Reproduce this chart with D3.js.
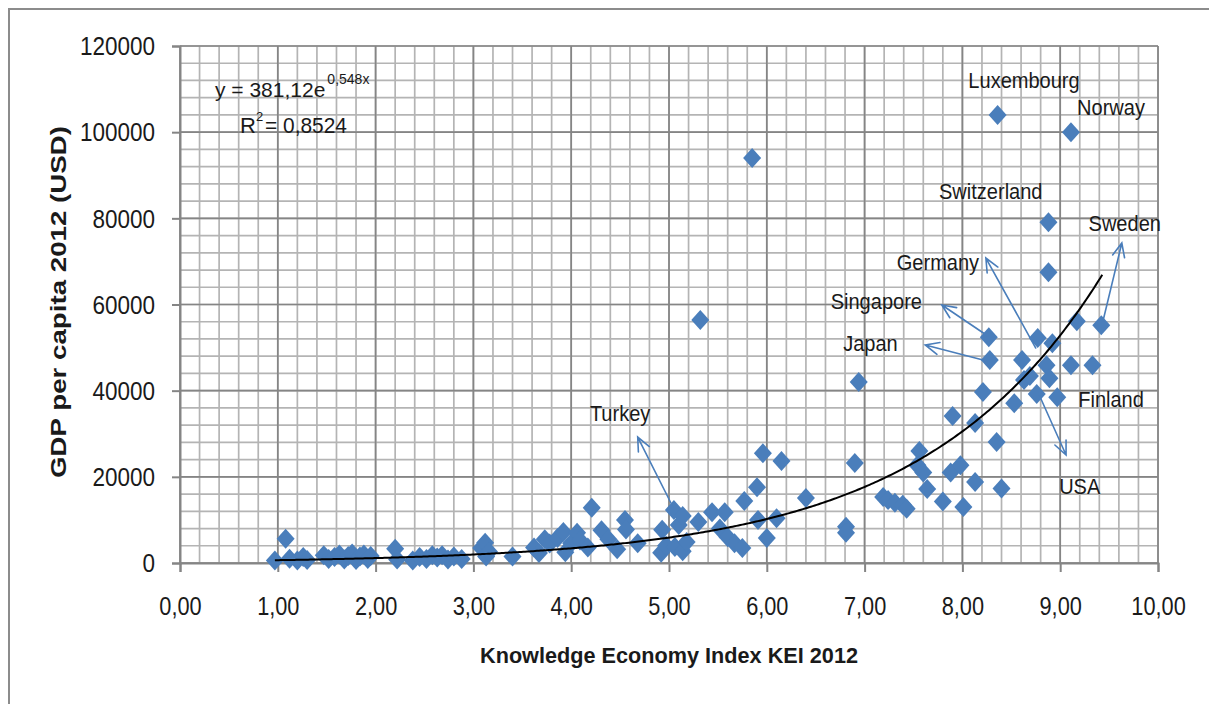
<!DOCTYPE html>
<html>
<head>
<meta charset="utf-8">
<script src="https://cdn.jsdelivr.net/npm/d3@7"></script>
<style>
  html, body { margin: 0; padding: 0; background: #fff; }
  svg { display: block; }
</style>
</head>
<body>
<svg id="chart" width="1209" height="704"></svg>
<script>
// Knowledge Economy Index (KEI 2012) against GDP per capita 2012 (USD)
const kei = [
  0.97, 1.08, 1.12, 1.20, 1.26, 1.30, 1.47, 1.52, 1.58, 1.63, 1.68, 1.72, 1.76, 1.80, 1.84, 1.88, 1.92, 1.95,
  2.20, 2.22, 2.38, 2.45, 2.52, 2.58, 2.63, 2.68, 2.74, 2.80, 2.88, 3.08, 3.12, 3.13, 3.16,
  3.40, 3.62, 3.67, 3.73, 3.78, 3.86, 3.92, 3.94, 4.00, 4.06, 4.09, 4.17, 4.21, 4.31, 4.38, 4.47, 4.55, 4.56,
  4.68, 4.92, 4.93, 4.97, 5.05, 5.06, 5.10, 5.14, 5.14, 5.18, 5.30, 5.32, 5.44, 5.52, 5.57, 5.60, 5.67, 5.75,
  5.77, 5.85, 5.90, 5.91, 5.96, 6.00, 6.10, 6.15, 6.40,
  6.81, 6.81, 6.90, 6.94, 7.19, 7.24, 7.31, 7.39, 7.43, 7.56, 7.54, 7.60, 7.64, 7.80, 7.88, 7.90, 7.98, 8.01,
  8.13, 8.13, 8.21, 8.27, 8.28, 8.35, 8.36, 8.40, 8.53, 8.61, 8.63, 8.69, 8.76, 8.77, 8.86, 8.88, 8.88, 8.89,
  8.92, 8.97, 9.11, 9.11, 9.17, 9.33, 9.42
];
const gdp = [
  600, 5600, 1000, 600, 1400, 700, 1800, 900, 1400, 2000, 800, 1600, 2200, 700, 1500, 2000, 900, 1600,
  3300, 800, 600, 1400, 900, 1800, 1300, 1800, 800, 1500, 900, 3500, 4700, 1500, 2600,
  1500, 3600, 2300, 5500, 4500, 5800, 7200, 2500, 4600, 7000, 5200, 3600, 12800, 7600, 5500, 3200, 10000, 7800,
  4600, 2400, 7700, 4000, 12300, 3700, 8800, 10900, 2700, 4900, 9500, 56400, 11800, 8000, 11800, 6000, 4600, 3500,
  14400, 94000, 17600, 10000, 25500, 5800, 10400, 23700, 15100,
  8400, 7000, 23200, 42000, 15300, 14600, 14000, 13500, 12600, 26000, 22700, 21000, 17200, 14300, 21000, 34100, 22700, 13000,
  32500, 18800, 39700, 52400, 47100, 28100, 104000, 17300, 37100, 47100, 42500, 43400, 39200, 52200, 45900, 79100, 67500, 42900,
  51000, 38500, 100000, 45900, 56100, 45900, 55200
];

// Axis ticks
const xTickValues = [0, 1, 2, 3, 4, 5, 6, 7, 8, 9, 10];
const yTickValues = [0, 20000, 40000, 60000, 80000, 100000, 120000];

// Exponential trendline y = a * e^(b x)
const trendA = 381.12;
const trendB = 0.548;
const trendRange = [0.97, 9.43];
const r2Text = "0,8524";

// Country call-outs: name, label anchor (kei, gdp)
const labelNames = ["Luxembourg", "Norway", "Switzerland", "Sweden", "Germany", "Singapore", "Japan", "Finland", "USA", "Turkey"];
const labelKei   = [8.63, 9.52, 8.29, 9.66, 7.75, 7.12, 7.06, 9.52, 9.20, 4.50];
const labelGdp   = [110250, 104000, 84500, 77060, 68000, 58950, 49200, 36200, 16000, 32960];

// Arrows: from (kei, gdp) to (kei, gdp)
const arrowNames   = ["Turkey", "Singapore", "Japan", "Germany", "USA", "Sweden"];
const arrowFromKei = [5.03, 8.26, 8.25, 8.75, 8.79, 9.44];
const arrowFromGdp = [13460, 52690, 46880, 49900, 38760, 56400];
const arrowToKei   = [4.68, 7.79, 7.62, 8.24, 9.06, 9.63];
const arrowToGdp   = [29240, 59880, 50600, 70790, 25070, 74270];

const svg = d3.select("#chart");
const W = 1209, H = 704;
const plot = { left: 180, right: 1158, top: 46, bottom: 563 };
const FONT = "'Liberation Sans', Arial, sans-serif";
const BLUE = "#4a7ebb";
const INK = "#1a1a1a";

// narrow, tall text: glyphs squeezed horizontally by a constant factor
const squeeze = (sel, factor) => sel.each(function () {
  const w = this.getComputedTextLength();
  d3.select(this).attr("textLength", w * factor).attr("lengthAdjust", "spacingAndGlyphs");
});

const x = d3.scaleLinear().domain([0, 10]).range([plot.left, plot.right]);
const y = d3.scaleLinear().domain([0, 120000]).range([plot.bottom, plot.top]);

// Outer chart frame (top and left edges)
svg.append("path")
  .attr("d", `M9,${H} L9,9 L${W},9`)
  .attr("fill", "none").attr("stroke", "#8c8c8c").attr("stroke-width", 2);

// Gridlines: minor every 0.2 / 4000, major every 1 / 20000
const grid = svg.append("g");
const minorX = d3.range(0, 10.0001, 0.2);
const minorY = d3.range(0, 120001, 4000);
grid.selectAll("line.mx").data(minorX).join("line")
  .attr("x1", d => x(d)).attr("x2", d => x(d))
  .attr("y1", plot.top).attr("y2", plot.bottom)
  .attr("stroke", "#b4b4b4").attr("stroke-width", 1.7);
grid.selectAll("line.my").data(minorY).join("line")
  .attr("y1", d => y(d)).attr("y2", d => y(d))
  .attr("x1", plot.left).attr("x2", plot.right)
  .attr("stroke", "#b4b4b4").attr("stroke-width", 1.7);
grid.selectAll("line.Mx").data(xTickValues).join("line")
  .attr("x1", d => x(d)).attr("x2", d => x(d))
  .attr("y1", plot.top).attr("y2", plot.bottom)
  .attr("stroke", "#858585").attr("stroke-width", 1.7);
grid.selectAll("line.My").data(yTickValues).join("line")
  .attr("y1", d => y(d)).attr("y2", d => y(d))
  .attr("x1", plot.left).attr("x2", plot.right)
  .attr("stroke", "#858585").attr("stroke-width", 1.7);

// Axes
const fmtX = d => d3.format(".2f")(d).replace(".", ",");
const xAxis = d3.axisBottom(x).tickValues(xTickValues).tickFormat(fmtX).tickSize(9);
const yAxis = d3.axisLeft(y).tickValues(yTickValues).tickFormat(d3.format("d")).tickSize(8).tickPadding(17);

const gx = svg.append("g").attr("transform", `translate(0,${plot.bottom})`).call(xAxis);
const gy = svg.append("g").attr("transform", `translate(${plot.left},0)`).call(yAxis);
[gx, gy].forEach(g => {
  g.select(".domain").attr("stroke", "#858585").attr("stroke-width", 2);
  g.selectAll(".tick line").attr("stroke", "#858585").attr("stroke-width", 2);
  g.selectAll(".tick text").attr("fill", INK)
    .style("font-family", FONT).style("font-size", "25px");
});
gx.selectAll(".tick text").attr("dy", "0.35em").attr("y", 43).call(squeeze, 0.87);
gy.selectAll(".tick text").attr("dy", "0.35em").call(squeeze, 0.9);

// Axis titles
svg.append("text")
  .attr("x", 669)
  .attr("y", 663)
  .attr("text-anchor", "middle")
  .attr("textLength", 378).attr("lengthAdjust", "spacingAndGlyphs")
  .style("font-family", FONT).style("font-size", "22px").style("font-weight", "bold")
  .attr("fill", INK)
  .text("Knowledge Economy Index KEI 2012");

svg.append("text")
  .attr("transform", `translate(66,302) rotate(-90)`)
  .attr("text-anchor", "middle")
  .attr("textLength", 352).attr("lengthAdjust", "spacingAndGlyphs")
  .style("font-family", FONT).style("font-size", "22px").style("font-weight", "bold")
  .attr("fill", INK)
  .text("GDP per capita 2012 (USD)");

// Data markers (diamonds)
const points = kei.map((k, i) => ({ k, g: gdp[i] }));
svg.append("g").selectAll("path").data(points).join("path")
  .attr("transform", d => `translate(${x(d.k)},${y(d.g)})`)
  .attr("d", "M0,-10L9,0L0,10L-9,0Z")
  .attr("fill", BLUE);

// Trendline
const trendXs = d3.range(trendRange[0], trendRange[1] + 1e-9, 0.02);
const trendLine = d3.line().x(d => x(d)).y(d => y(trendA * Math.exp(trendB * d)));
svg.append("path")
  .datum(trendXs)
  .attr("d", trendLine)
  .attr("fill", "none").attr("stroke", "#000").attr("stroke-width", 2);

// Arrows
const arrows = arrowNames.map((n, i) => ({
  x1: x(arrowFromKei[i]), y1: y(arrowFromGdp[i]),
  x2: x(arrowToKei[i]), y2: y(arrowToGdp[i])
}));
const ag = svg.append("g").attr("stroke", BLUE).attr("stroke-width", 1.6).attr("fill", "none")
  .attr("stroke-linecap", "round");
arrows.forEach(a => {
  const ang = Math.atan2(a.y2 - a.y1, a.x2 - a.x1);
  const L = 15, spread = 0.42;
  const w1 = [a.x2 - L * Math.cos(ang - spread), a.y2 - L * Math.sin(ang - spread)];
  const w2 = [a.x2 - L * Math.cos(ang + spread), a.y2 - L * Math.sin(ang + spread)];
  ag.append("path").attr("d", `M${a.x1},${a.y1}L${a.x2},${a.y2}M${w1[0]},${w1[1]}L${a.x2},${a.y2}L${w2[0]},${w2[1]}`);
});

// Country labels
svg.append("g").selectAll("text").data(labelNames).join("text")
  .attr("x", (d, i) => x(labelKei[i]))
  .attr("y", (d, i) => y(labelGdp[i]))
  .attr("text-anchor", "middle")
  .style("font-family", FONT).style("font-size", "22px")
  .attr("fill", INK)
  .text(d => d)
  .call(squeeze, 0.91);

// Trendline equation and R²
const eqMain = svg.append("text")
  .attr("x", 215).attr("y", 97)
  .style("font-family", FONT).style("font-size", "21px")
  .attr("fill", INK)
  .text(`y = ${String(trendA).replace(".", ",")}e`);
const eqMainEnd = 215 + eqMain.node().getComputedTextLength();
svg.append("text")
  .attr("x", eqMainEnd + 2).attr("y", 84)
  .style("font-family", FONT).style("font-size", "14px")
  .attr("fill", INK)
  .text(`${String(trendB).replace(".", ",")}x`);

svg.append("text")
  .attr("x", 240).attr("y", 133)
  .style("font-family", FONT).style("font-size", "22px")
  .attr("fill", INK)
  .text("R");
svg.append("text")
  .attr("x", 256).attr("y", 121)
  .style("font-family", FONT).style("font-size", "13px")
  .attr("fill", INK)
  .text("2");
svg.append("text")
  .attr("x", 265).attr("y", 133)
  .style("font-family", FONT).style("font-size", "22px")
  .attr("fill", INK)
  .text(`= ${r2Text}`)
  .call(squeeze, 0.95);
</script>
</body>
</html>
